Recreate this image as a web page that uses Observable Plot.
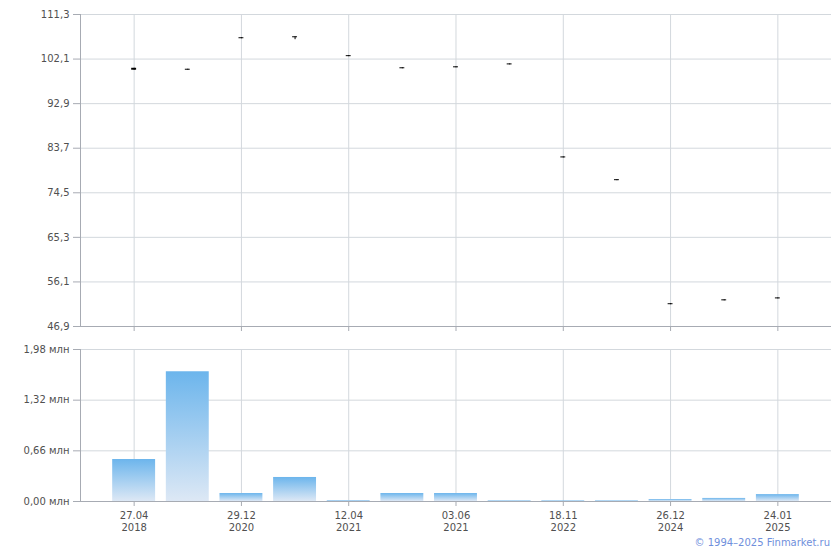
<!DOCTYPE html>
<html>
<head>
<meta charset="utf-8">
<script src="https://cdn.jsdelivr.net/npm/d3@7"></script>
<script src="https://cdn.jsdelivr.net/npm/@observablehq/plot@0.6"></script>
<style>
  body { margin: 0; background: #fff; font-family: "DejaVu Sans", Verdana, sans-serif; }
  #wrap { position: relative; width: 840px; height: 550px; }
  #toppanel { position: absolute; left: 0; top: 0; }
  #bottompanel { position: absolute; left: 0; top: 335px; }
  #copy { position: absolute; right: 10px; top: 537px; font-size: 10px; color: #6f8fdc; }
</style>
</head>
<body>
<div id="wrap">
  <div id="toppanel"></div>
  <div id="bottompanel"></div>
  <div id="copy">© 1994–2025 Finmarket.ru</div>
</div>
<script>
// Categories (13 trading periods); only some carry labels
const dateLabels = ["27.04\n2018", "", "29.12\n2020", "", "12.04\n2021", "", "03.06\n2021", "", "18.11\n2022", "", "26.12\n2024", "", "24.01\n2025"];
// Prices
const openPrice  = [100.2, 100.0, 106.5, 106.7, 102.8, 100.3, 100.5, 101.1, 81.9, 77.2, 51.6, 52.4, 52.8];
const closePrice = [99.8, 99.8, 106.3, 106.5, 102.6, 100.1, 100.3, 100.9, 81.7, 77.0, 51.4, 52.2, 52.6];
const highPrice  = [100.2, 100.0, 106.5, 106.7, 102.8, 100.3, 100.5, 101.1, 81.9, 77.2, 51.6, 52.4, 52.8];
const lowPrice   = [99.8, 99.8, 106.3, 106.1, 102.6, 100.1, 100.3, 100.9, 81.7, 77.0, 51.4, 52.2, 52.6];
// Volume, mln
const volume = [0.547, 1.69, 0.104, 0.313, 0.012, 0.104, 0.104, 0.008, 0.008, 0.008, 0.026, 0.04, 0.09];
// Tick values
const priceTicks = [46.9, 56.1, 65.3, 74.5, 83.7, 92.9, 102.1, 111.3];
const volumeTicks = [0, 0.66, 1.32, 1.98];

const idx = d3.range(dateLabels.length);
const labeled = idx.filter(i => dateLabels[i] !== "");
const rows = idx.map(i => ({i, open: openPrice[i], close: closePrice[i], high: highPrice[i], low: lowPrice[i], vol: volume[i]}));

const GRID = "#d3d8dd";
const AXIS = "#a7abb3";
const TEXT = "#505050";
const FONT = "DejaVu Sans, Verdana, sans-serif";

const xScale = {type: "band", domain: idx, paddingInner: 0.2, paddingOuter: 0.6, align: 0.5, round: false};
const comma = (v, n) => v.toFixed(n).replace(".", ",");

// left axis line drawn from the plot's own dimensions
const leftAxisLine = (index, scales, values, dims) => {
  const l = d3.create("svg:line")
    .attr("x1", dims.marginLeft + 0.5).attr("x2", dims.marginLeft + 0.5)
    .attr("y1", dims.marginTop).attr("y2", dims.height - dims.marginBottom)
    .attr("stroke", AXIS);
  return l.node();
};

const pricePlot = Plot.plot({
  width: 840, height: 335,
  marginLeft: 80, marginRight: 9, marginTop: 14, marginBottom: 9,
  style: {fontFamily: FONT, fontSize: "10px", background: "#fff"},
  x: {...xScale, axis: null, label: null},
  y: {domain: [46.9, 111.3], axis: null, label: null},
  marks: [
    Plot.gridY(priceTicks, {stroke: GRID, strokeOpacity: 1}),
    Plot.ruleX(labeled, {x: d => d, stroke: GRID}),
    Plot.ruleY([46.9], {stroke: AXIS}),
    leftAxisLine,
    Plot.axisY({ticks: priceTicks, tickFormat: d => comma(d, 1), tickSize: 7, tickPadding: 4, stroke: AXIS, fill: TEXT, label: null}),
    Plot.axisX({ticks: labeled, tickFormat: () => "", tickSize: 5, stroke: AXIS, label: null}),
    Plot.ruleX(rows, {x: "i", y1: "low", y2: "high", stroke: "#000"}),
    Plot.barY(rows, {x: "i", y1: "open", y2: "close", fill: "#000", insetLeft: 19, insetRight: 19})
  ]
});
document.getElementById("toppanel").append(pricePlot);

const defs = () => {
  const g = d3.create("svg:defs");
  const lg = g.append("linearGradient").attr("id", "volgrad").attr("x1", 0).attr("y1", 0).attr("x2", 0).attr("y2", 1);
  lg.append("stop").attr("offset", "0%").attr("stop-color", "#6cb5ec");
  lg.append("stop").attr("offset", "100%").attr("stop-color", "#dde8f5");
  return g.node();
};

const volumePlot = Plot.plot({
  width: 840, height: 215,
  marginLeft: 80, marginRight: 9, marginTop: 14, marginBottom: 49,
  style: {fontFamily: FONT, fontSize: "10px", background: "#fff"},
  x: {...xScale, axis: null, label: null},
  y: {domain: [0, 1.98], axis: null, label: null},
  marks: [
    defs,
    Plot.gridY(volumeTicks, {stroke: GRID, strokeOpacity: 1}),
    Plot.ruleX(labeled, {x: d => d, stroke: GRID}),
    Plot.barY(rows, {x: "i", y: "vol", fill: "url(#volgrad)"}),
    Plot.ruleY([0], {stroke: AXIS}),
    leftAxisLine,
    Plot.axisY({ticks: volumeTicks, tickFormat: d => comma(d, 2) + " млн", tickSize: 7, tickPadding: 4, stroke: AXIS, fill: TEXT, label: null}),
    Plot.axisX({ticks: labeled, tickFormat: i => dateLabels[i], tickSize: 5, tickPadding: 4, stroke: AXIS, fill: TEXT, lineHeight: 1.2, label: null})
  ]
});
document.getElementById("bottompanel").append(volumePlot);
</script>
</body>
</html>
